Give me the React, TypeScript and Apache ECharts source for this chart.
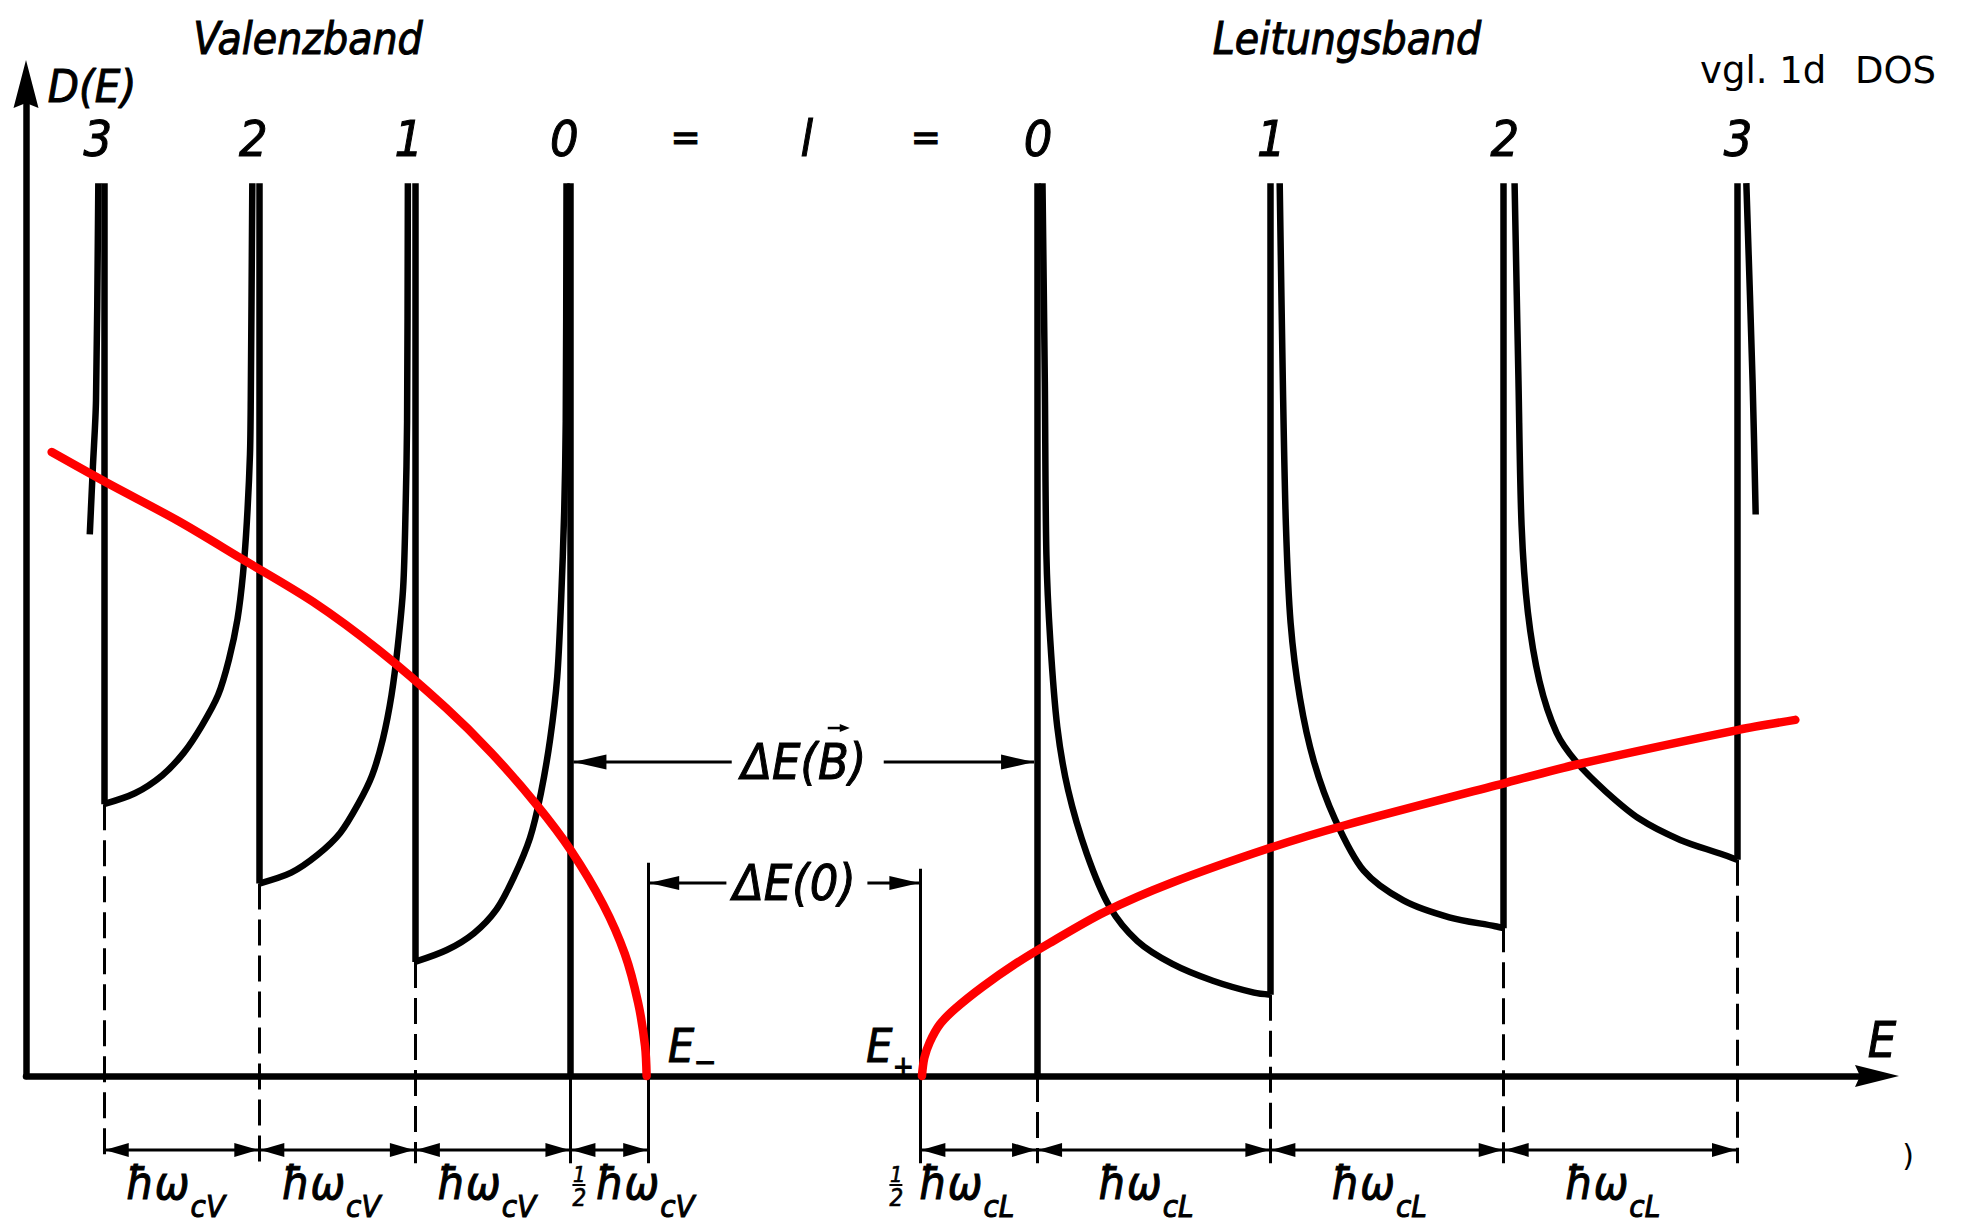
import React, { useEffect, useRef } from "react";
import * as echarts from "echarts";

// ---------- data (energy in units of ħω_cV/2, D(E) in arbitrary units) ----------
const valenceLevels = [1, 3, 5, 7]; // l = 3, 2, 1, 0
const valenceLevelNames = ["3", "2", "1", "0"];
const conductionLevels = [13, 16, 19, 22]; // l = 0, 1, 2, 3
const conductionLevelNames = ["0", "1", "2", "3"];
const E_MINUS = 8;
const E_PLUS = 11.5;
const PEAK = 90;

// Landau-level DOS of the valence band
const valenceTail = [[0.82, 54.6], [0.86, 61.4], [0.9, 68.1], [0.93, 90]];
const valence_1_3 = [[1.0, 27.4], [1.4, 28.5], [1.75, 30.3], [2.03, 32.6], [2.26, 35.3], [2.47, 38.4], [2.61, 42.0], [2.72, 46.1], [2.79, 50.6], [2.84, 55.9], [2.88, 62.7], [2.89, 68.1], [2.91, 90]];
const valence_3_5 = [[3.0, 19.4], [3.41, 20.5], [3.75, 22.3], [4.04, 24.5], [4.27, 27.4], [4.45, 30.3], [4.59, 34.0], [4.7, 38.4], [4.78, 43.3], [4.85, 49.3], [4.88, 56.9], [4.9, 66.0], [4.91, 90]];
const valence_5_7 = [[5.0, 11.5], [5.41, 12.7], [5.76, 14.4], [6.05, 16.8], [6.27, 20.0], [6.48, 24.0], [6.62, 28.5], [6.74, 34.0], [6.83, 40.2], [6.88, 47.9], [6.92, 56.9], [6.94, 66.0], [6.95, 90]];

// Landau-level DOS of the conduction band
const cond_13_16 = [[13.07, 90], [13.1, 70.0], [13.12, 52.6], [13.17, 43.9], [13.26, 35.2], [13.4, 28.8], [13.64, 22.4], [13.93, 17.1], [14.29, 13.6], [14.74, 11.3], [15.26, 9.6], [15.79, 8.4], [16.0, 8.2]];
const cond_16_19 = [[16.12, 90], [16.16, 70.1], [16.2, 55.5], [16.26, 45.7], [16.38, 38.1], [16.56, 31.7], [16.83, 25.9], [17.2, 20.7], [17.71, 17.7], [18.3, 16.0], [18.89, 15.1], [19.0, 14.9]];
const cond_19_22 = [[19.14, 90], [19.19, 70.1], [19.23, 55.5], [19.31, 46.8], [19.46, 39.8], [19.68, 34.6], [19.93, 31.7], [20.31, 28.7], [20.75, 25.9], [21.27, 23.8], [21.79, 22.4], [22.0, 21.8]];
const condTail = [[22.12, 90], [22.2, 70.1], [22.24, 56.6]];

// 3D DOS without field (red)
const redValence = [[0.33, 62.9], [1.04, 59.8], [1.97, 55.9], [2.76, 52.2], [3.69, 47.8], [4.54, 42.9], [5.4, 37.1], [5.98, 32.6], [6.56, 27.4], [7.01, 22.7], [7.42, 17.3], [7.7, 12.3], [7.87, 7.4], [7.96, 3.0], [7.98, 0]];
const redConduction = [[11.52, 0], [11.55, 1.8], [11.62, 3.4], [11.75, 5.2], [11.95, 6.8], [12.3, 9.0], [12.74, 11.4], [13.16, 13.4], [13.86, 16.5], [14.74, 19.5], [16.0, 23.0], [16.97, 25.3], [19.05, 29.6], [19.94, 31.4], [22.02, 34.9], [22.75, 35.9]];

// extension lines [E, D of upper end]
const extDashed = [[1, 27.4], [3, 19.4], [5, 11.5], [13, 0], [16, 8.2], [19, 15.1], [22, 21.8]];
const extSolid = [[7, 0], [E_MINUS, 21.5], [E_PLUS, 20.9]];
const EXT_BOTTOM = -8.8;
const DIM_Y = -7.45;

// dimension intervals
const dimValence = [[1, 3], [3, 5], [5, 7], [7, 8]];
const dimConduction = [[11.5, 13], [13, 16], [16, 19], [19, 22]];
const fullLabelsV = [[1, 3], [3, 5], [5, 7]];
const fullLabelsC = [[13, 16], [16, 19], [19, 22]];

const DELTA_B_Y = 31.65;
const DELTA_0_Y = 19.46;
const DELTA_B_TEXT_E = 10.0;
const DELTA_0_TEXT_E = 9.88;
const EQUALS_E = [8.48, 11.57];
const L_E = 10.04;

const FONT = "'DejaVu Sans Condensed', 'DejaVu Sans', sans-serif";
const FONT_PLAIN = "'DejaVu Sans', Verdana, sans-serif";

const first = (a: number[][]) => a[0];
const last = (a: number[][]) => a[a.length - 1];

export default function App() {
  const ref = useRef<HTMLDivElement>(null);
  useEffect(() => {
    const chart = echarts.init(ref.current!, null, { renderer: "svg" });

    const valenceCurves = [valenceTail, valence_1_3, valence_3_5, valence_5_7];
    const condCurves = [cond_13_16, cond_16_19, cond_19_22, condTail];

    // vertical flanks at each Landau level
    const verticals: number[][][] = [];
    valenceLevels.forEach((e, i) => {
      const after = i < 3 ? first(valenceCurves[i + 1]) : [e, 0];
      verticals.push([[e, PEAK], after]);
    });
    conductionLevels.forEach((e, i) => {
      const before = i === 0 ? [e, 0] : last(condCurves[i - 1]);
      verticals.push([before, [e, PEAK]]);
    });

    const blackCurve = (data: number[][]) => ({
      type: "line", data, symbol: "none", silent: true, clip: false, z: 3,
      smooth: 0.3,
      lineStyle: { color: "#000", width: 6.5, cap: "butt", join: "round" },
    });
    const redLine = (data: number[][]) => ({
      type: "line", data, symbol: "none", silent: true, clip: false, z: 4,
      smooth: 0.3,
      lineStyle: { color: "#ff0000", width: 8.5, cap: "round", join: "round" },
    });

    chart.setOption({
      animation: false,
      grid: { left: 26, right: 85, top: 84, bottom: 149 },
      xAxis: {
        type: "value", min: 0, max: 23.8,
        axisLine: {
          show: true, onZero: false,
          lineStyle: { color: "#000", width: 6.5 },
          symbol: ["none", "path://M11,0 L22,44 L11,39 L0,44 Z"],
          symbolSize: [22, 44],
        },
        axisTick: { show: false }, axisLabel: { show: false }, splitLine: { show: false },
      },
      yAxis: {
        type: "value", min: 0, max: 100,
        axisLine: {
          show: true, onZero: false,
          lineStyle: { color: "#000", width: 6.5 },
          symbol: ["none", "path://M12.5,0 L25,48 L12.5,43 L0,48 Z"],
          symbolSize: [25, 48],
        },
        axisTick: { show: false }, axisLabel: { show: false }, splitLine: { show: false },
      },
      series: [
        {
          type: "lines", coordinateSystem: "cartesian2d", silent: true, clip: false, z: 1,
          lineStyle: { color: "#000", width: 3, type: [26, 10], opacity: 1 },
          data: extDashed.map(([e, d]) => ({ coords: [[e, d], [e, EXT_BOTTOM]] })),
        },
        {
          type: "lines", coordinateSystem: "cartesian2d", silent: true, clip: false, z: 1,
          lineStyle: { color: "#000", width: 3, type: "solid", opacity: 1 },
          data: extSolid.map(([e, d]) => ({ coords: [[e, d], [e, EXT_BOTTOM]] })),
        },
        {
          type: "lines", coordinateSystem: "cartesian2d", silent: true, clip: false, z: 3,
          lineStyle: { color: "#000", width: 6.5, type: "solid", opacity: 1 },
          data: verticals.map((c) => ({ coords: c })),
        },
        ...valenceCurves.map(blackCurve),
        ...condCurves.map(blackCurve),
        redLine(redValence),
        redLine(redConduction),
      ],
    });

    const P = (e: number, d: number) =>
      chart.convertToPixel({ gridIndex: 0 }, [e, d]) as number[];
    const X = (e: number) => P(e, 0)[0];
    const Y = (d: number) => P(0, d)[1];

    const txt = (text: string, x: number, y: number, size: number, o: any = {}) => ({
      type: "text", x, y, silent: true, z: 10,
      style: {
        text, fill: "#000", fontSize: size, fontFamily: o.family ?? FONT,
        fontStyle: o.style ?? "italic", fontWeight: "normal",
        stroke: o.plain ? undefined : "#000", lineWidth: o.plain ? 0 : (o.bold ?? 1),
        align: o.align ?? "center", verticalAlign: "middle",
      },
    });
    const seg = (x1: number, y1: number, x2: number, y2: number, w = 3) => ({
      type: "line", silent: true, z: 10,
      shape: { x1, y1, x2, y2 }, style: { stroke: "#000", lineWidth: w },
    });
    const head = (tx: number, ty: number, dir: number, L: number, W: number) => ({
      type: "polygon", silent: true, z: 10,
      shape: { points: [[tx, ty], [tx - dir * L, ty - W / 2], [tx - dir * L, ty + W / 2]] },
      style: { fill: "#000" },
    });
    const dim = (a: number, b: number, y: number) => [
      seg(a, y, b, y, 3), head(a + 1, y, -1, 24, 14), head(b - 1, y, 1, 24, 14),
    ];
    const hw = (anchor: number, sub: string) => [
      txt("ħω", anchor, 1183, 46, { align: "right" }),
      txt(sub, anchor + 1, 1206, 31, { align: "left" }),
    ];
    const frac = (cx: number) => [
      txt("1", cx, 1174, 22, { bold: 0.6 }),
      seg(cx - 7, 1185, cx + 6, 1185, 2),
      txt("2", cx, 1198, 24, { bold: 0.6 }),
    ];

    const g: any[] = [];
    // headings
    g.push(txt("Valenzband", 308, 38, 44));
    g.push(txt("Leitungsband", 1347, 38, 44));
    g.push(txt("D(E)", 92, 86, 45));
    g.push(txt("vgl. 1d", 1700, 70, 37, { style: "normal", align: "left", family: FONT_PLAIN, plain: true }));
    g.push(txt("DOS", 1855, 70, 37, { style: "normal", align: "left", family: FONT_PLAIN, plain: true }));
    g.push(txt("E", 1882, 1040, 50));
    g.push(txt(")", 1908, 1155, 30, { style: "normal", family: FONT_PLAIN, plain: true }));

    // Landau quantum numbers
    valenceLevels.forEach((e, i) => g.push(txt(valenceLevelNames[i], X(e) - 6, 139, 50)));
    conductionLevels.forEach((e, i) => g.push(txt(conductionLevelNames[i], X(e) + 1, 139, 50)));
    EQUALS_E.forEach((e) => g.push(txt("=", X(e), 137, 40, { style: "normal" })));
    g.push(txt("l", X(L_E), 139, 50));

    // band edges
    g.push(txt("E", X(E_MINUS) + 33, 1046, 46));
    g.push(txt("−", X(E_MINUS) + 57, 1061, 30, { style: "normal" }));
    g.push(txt("E", X(E_PLUS) - 41, 1046, 46));
    g.push(txt("+", X(E_PLUS) - 17, 1066, 28, { style: "normal" }));

    // ΔE(B)
    const yB = Y(DELTA_B_Y);
    const cB = X(DELTA_B_TEXT_E);
    g.push(seg(X(7) + 3, yB, cB - 72, yB), seg(cB + 80, yB, X(13) - 3, yB));
    g.push(head(X(7) + 3, yB, -1, 33, 15), head(X(13) - 3, yB, 1, 33, 15));
    g.push(txt("ΔE(B)", cB, yB, 50));
    g.push(seg(cB + 24, yB - 34, cB + 38, yB - 34, 2.5), head(cB + 46, yB - 34, 1, 10, 8));

    // ΔE(0)
    const y0 = Y(DELTA_0_Y);
    const c0 = X(DELTA_0_TEXT_E);
    g.push(seg(X(E_MINUS), y0, c0 - 68, y0), seg(c0 + 73, y0, X(E_PLUS), y0));
    g.push(head(X(E_MINUS) + 1, y0, -1, 30, 14), head(X(E_PLUS) - 1, y0, 1, 30, 14));
    g.push(txt("ΔE(0)", c0, y0, 50));

    // bottom dimension chains
    const yd = Y(DIM_Y);
    [...dimValence, ...dimConduction].forEach(([a, b]) => g.push(...dim(X(a), X(b), yd)));
    fullLabelsV.forEach(([a, b]) => g.push(...hw(X((a + b) / 2) + 8, "cV")));
    fullLabelsC.forEach(([a, b]) => g.push(...hw(X((a + b) / 2) + 8, "cL")));
    g.push(...frac(X(7) + 9), ...hw(X(E_MINUS) + 11, "cV"));
    g.push(...frac(X(E_PLUS) - 24), ...hw(X(E_PLUS) + 62, "cL"));

    chart.setOption({ graphic: g });
    return () => chart.dispose();
  }, []);
  return (
    <div
      ref={ref}
      style={{ position: "fixed", left: 0, top: 0, width: 1962, height: 1225, background: "#fff" }}
    />
  );
}
